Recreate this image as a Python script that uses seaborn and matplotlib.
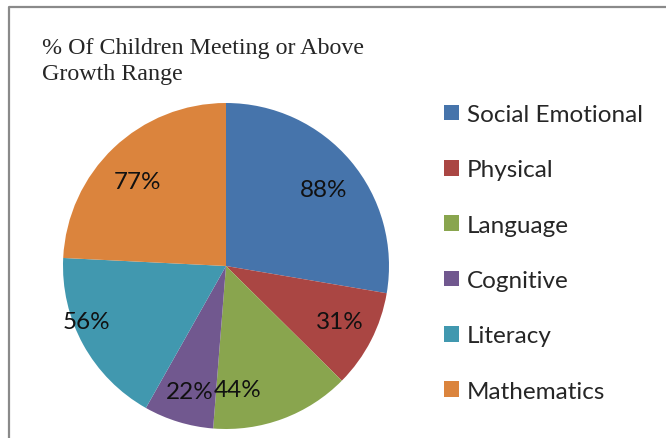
import matplotlib
matplotlib.use("Agg")
import numpy as np
import matplotlib.pyplot as plt
import seaborn as sns
from matplotlib.patches import Patch
from matplotlib.lines import Line2D

categories = ["Social Emotional", "Physical", "Language", "Cognitive", "Literacy", "Mathematics"]
values = [88, 31, 44, 22, 56, 77]
colors = ["#4674AB", "#AA4643", "#89A54E", "#71588F", "#4198AF", "#DB843D"]
title = "% Of Children Meeting or Above\nGrowth Range"

# label placement (Excel "best fit"): radial distance and angular nudge per slice
label_dist = [0.76, 0.775, 0.76, 0.80, 0.92, 0.75]
label_nudge = [-2, 1, -15, 1, -7, 3]

sns.set_style("white")
plt.rcParams['font.family'] = ['Lato', 'DejaVu Sans']

W, H = 666, 439
fig = plt.figure(figsize=(W / 100, H / 100), dpi=100)

# pie axes: center (226, 267) px, radius 163 px
cx, cy, r = 226, 267, 163
ax = fig.add_axes([(cx - r) / W, (H - cy - r) / H, 2 * r / W, 2 * r / H])
palette = sns.color_palette(colors)
wedges, texts = ax.pie(values, colors=palette, startangle=90, counterclock=False,
                       labels=[f"{v}%" for v in values], labeldistance=0.77,
                       textprops=dict(fontsize=17.5, ha='center', va='center', color='#111111'),
                       wedgeprops=dict(linewidth=0))
for w, t, d, n in zip(wedges, texts, label_dist, label_nudge):
    ang = np.deg2rad((w.theta1 + w.theta2) / 2 + n)
    t.set_position((d * np.cos(ang), d * np.sin(ang)))
ax.set_aspect('equal')
ax.set_xlim(-1, 1)
ax.set_ylim(-1, 1)
ax.axis('off')

fig.text(42 / W, 1 - 38 / H, title, fontsize=17.3, family=['Liberation Serif'],
         ha='left', va='top', linespacing=1.3)

handles = [Patch(facecolor=c, edgecolor='none') for c in palette]
fig.legend(handles, categories, loc='upper left', bbox_to_anchor=(432 / W, 1 - 93 / H),
           frameon=False, fontsize=17.5, handlelength=0.62, handleheight=0.62,
           handletextpad=0.33, labelspacing=1.41, borderpad=0)

# outer chart border (only top and left visible)
fig.add_artist(Line2D([8.5 / W, 8.5 / W, 1.0], [0.0, 1 - 7.5 / H, 1 - 7.5 / H],
                      transform=fig.transFigure, color='#8a8a8a', linewidth=1.6))

fig.savefig("out.png", dpi=100)
